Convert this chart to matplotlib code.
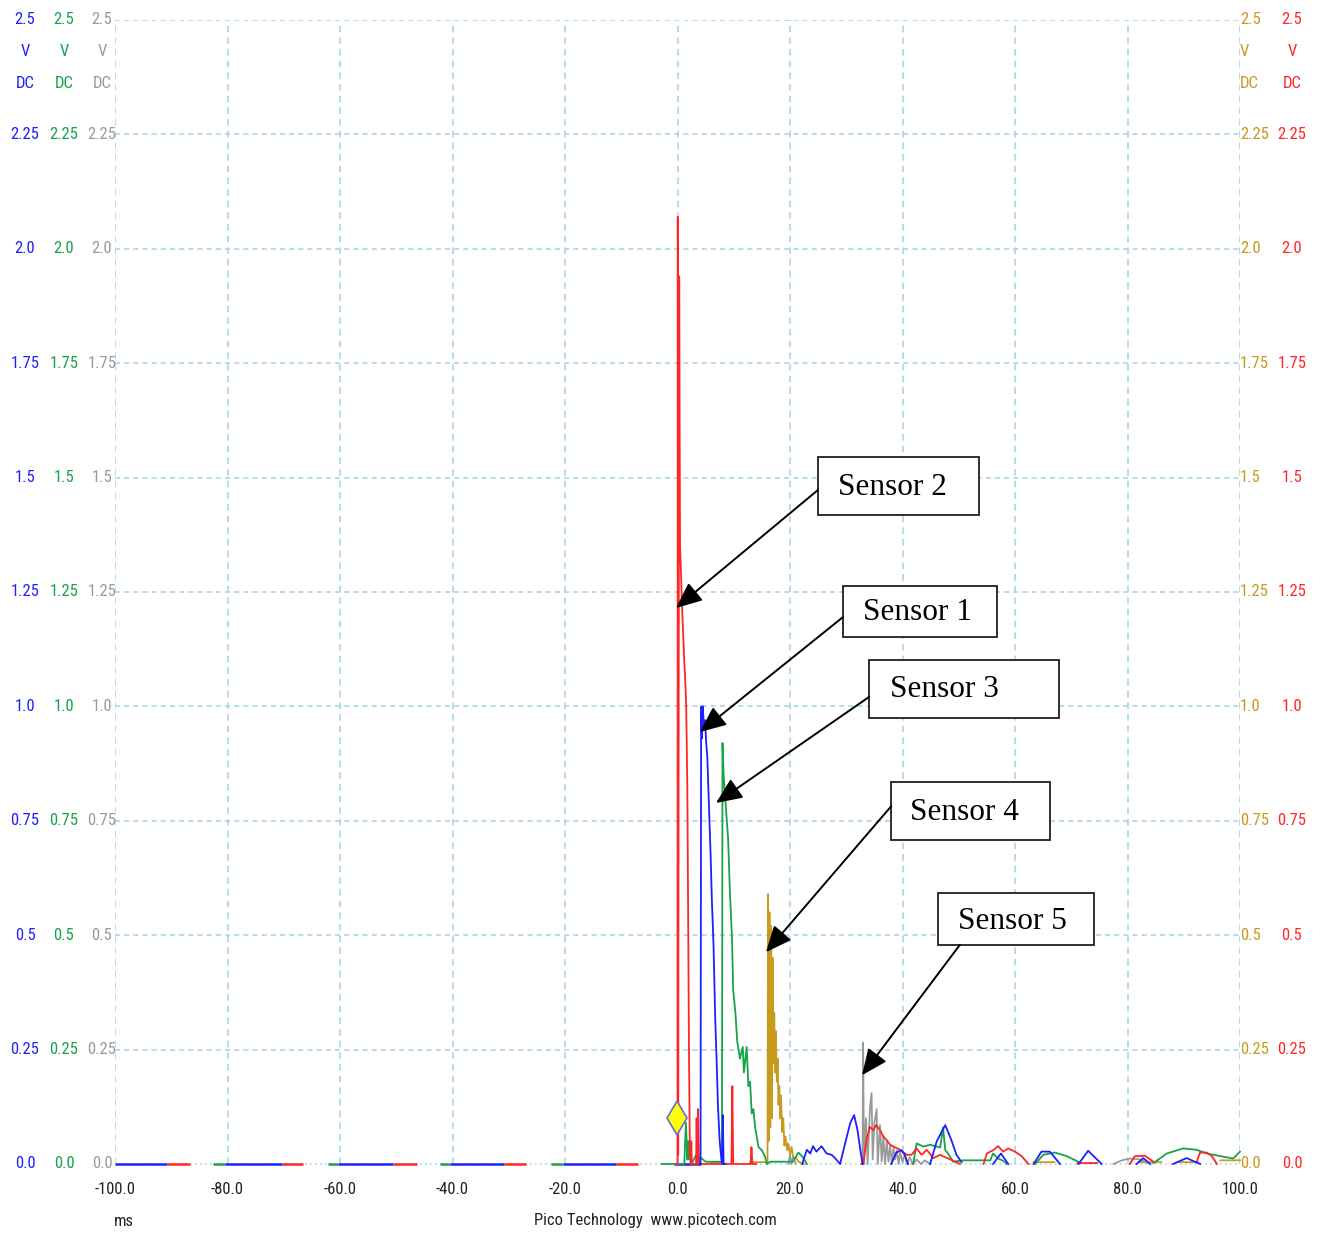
import numpy as np
import matplotlib
matplotlib.use("Agg")
import matplotlib.pyplot as plt
from matplotlib.patches import Rectangle
from matplotlib import font_manager as fm

nan = np.nan

# ---------------- data (time in ms, amplitude in V) ----------------
red_t = [-0.3, 0.0, 0.05, 0.12, 0.3, 0.45, 0.6, 0.8, 1.0, 1.2, 1.4, 1.55, 1.75, 1.9, 2.05, 2.2, 2.35, 2.45, 2.55,
         3.3, 3.4, 3.5, 3.65, 3.8, 9.6, 9.75, 9.9, 13.0, 13.15, 13.3, 14.0, nan,
         32.7, 33.0, 33.6, 34.2, 34.8, 35.3, 36.0, 36.6, 37.2, 37.8, 38.4, 39.6, 40.8, 41.6, 42.5, 43.4, 44.3,
         45.5, 46.7, 47.9, 48.7, 50.2, nan,
         54.4, 55.0, 56.1, 57.0, 57.9, 58.8, 60.0, 61.2, 62.4, nan,
         71.1, 74.6, nan, 80.4, 81.3, 83.1, 84.6, nan, 92.3, 92.9, 94.1, 95.0, 95.9]
red_v = [0, 0, 2.07, 0.02, 1.94, 1.35, 1.30, 1.22, 1.16, 1.10, 1.05, 1.0, 0.82, 0.53, 0.23, 0.02, 0.0, 0.05, 0.0,
         0.0, 0.1, 0.0, 0.12, 0.0, 0.0, 0.17, 0.0, 0.0, 0.037, 0.0, 0.0, nan,
         0.0, 0.0, 0.052, 0.081, 0.074, 0.085, 0.074, 0.06, 0.052, 0.042, 0.038, 0.031, 0.02, 0.02, 0.034, 0.02, 0.031,
         0.013, 0.02, 0.013, 0.009, 0.0, nan,
         0.0, 0.023, 0.03, 0.039, 0.027, 0.034, 0.027, 0.017, 0.0, nan,
         0.002, 0.002, nan, 0.0, 0.017, 0.018, 0.005, nan, 0.005, 0.025, 0.025, 0.017, 0.0]

blue_t = [3.9, 4.1, 4.2, 4.35, 4.5, 4.7, 4.9, 5.1, 5.3, 5.6, 5.9, 6.1, 6.4, 6.7, 7.0, 7.2, 7.5, 7.8, 7.95, 8.05, 8.2, 8.5, nan,
          22.2, 22.4, 23.0, 23.6, 24.1, 24.7, 25.6, 26.5, 27.4, 28.0, 28.9, 29.8, 30.7, 31.4, 32.0, 32.6, 32.9, nan,
          38.0, 38.9, 39.8, 40.4, 41.0, nan,
          44.9, 46.1, 47.6, 48.7, 49.6, 50.5, nan,
          56.1, 57.5, 58.8, nan, 63.3, 64.7, 66.2, 68.0, nan, 71.3, 73.0, 75.4, nan,
          81.6, 82.8, 84.0, nan, 88.1, 90.5, 92.9]
blue_v = [0.0, 0.0, 1.0, 0.93, 1.0, 0.95, 0.97, 0.92, 0.89, 0.78, 0.67, 0.58, 0.48, 0.32, 0.21, 0.125, 0.05, 0.01, 0.0, 0.107, 0.0, 0.0, nan,
          0.0, 0.009, 0.031, 0.023, 0.039, 0.027, 0.039, 0.023, 0.02, 0.013, 0.0, 0.045, 0.089, 0.107, 0.074, 0.023, 0.0, nan,
          0.0, 0.025, 0.03, 0.02, 0.0, nan,
          0.0, 0.05, 0.085, 0.052, 0.02, 0.004, nan,
          0.0, 0.023, 0.0, nan, 0.0, 0.027, 0.027, 0.0, nan, 0.0, 0.029, 0.0, nan,
          0.0, 0.013, 0.0, nan, 0.0, 0.013, 0.0]

green_t = [-2.8, 1.2, 1.5, 1.75, 1.9, 2.05, 2.3, 2.5, 3.3, 3.6, 4.0, 5.0, 7.9, 8.0, 8.2, 8.6, 9.0, 9.3, 9.7, 9.9, 10.3,
           10.6, 11.1, 11.6, 11.8, 12.3, 12.6, 12.9, 13.2, 13.5, 13.8, 14.4, 15.0, 15.6, 15.9, 16.5, 20.5, 21.5, 22.3, 23.0, nan,
           41.9, 42.5, 43.7, 44.9, 46.1, 46.7, 47.2, 47.6, 48.1, 49.0, 50.8, 55.6, 56.1, 57.0, 57.9, 58.5, nan,
           63.6, 65.0, 67.1, 69.2, 71.6, nan,
           84.6, 87.0, 89.9, 92.3, 94.1, 97.0, 98.8, 100.0]
green_v = [0.0, 0.0, 0.09, 0.01, 0.05, 0.01, 0.03, 0.0, 0.02, 0.0, 0.015, 0.005, 0.005, 0.92, 0.85, 0.78, 0.71, 0.60, 0.49, 0.38, 0.33,
           0.27, 0.23, 0.256, 0.2, 0.256, 0.17, 0.18, 0.11, 0.12, 0.08, 0.037, 0.03, 0.015, 0.0, 0.005, 0.005, 0.025, 0.015, 0.0, nan,
           0.0, 0.045, 0.038, 0.042, 0.038, 0.036, 0.08, 0.03, 0.023, 0.005, 0.008, 0.008, 0.023, 0.012, 0.007, 0.0, nan,
           0.0, 0.02, 0.025, 0.017, 0.003, nan,
           0.002, 0.023, 0.034, 0.031, 0.023, 0.016, 0.012, 0.027]

gold_t = [5.8, 8.1, nan, 12.9, 15.9, 16.0, 16.1, 16.2, 16.35, 16.5, 16.65, 16.8, 16.95, 17.05, 17.2, 17.35, 17.5, 17.65, 17.8,
          17.95, 18.1, 18.25, 18.4, 18.6, 18.8, 19.0, 19.2, 19.5, 19.7, 20.0, 20.3, 20.6, 21.0, 21.5, 22.5, nan,
          63.3, 67.0, nan, 82.0, 86.0, nan, 89.0, 92.5, nan, 96.5, 100.0]
gold_v = [0.004, 0.004, nan, 0.004, 0.004, 0.0, 0.59, 0.05, 0.55, 0.08, 0.52, 0.1, 0.45, 0.22, 0.33, 0.2, 0.29, 0.18, 0.23,
          0.13, 0.17, 0.1, 0.15, 0.07, 0.1, 0.04, 0.06, 0.03, 0.045, 0.02, 0.037, 0.01, 0.015, 0.005, 0.0, nan,
          0.004, 0.004, nan, 0.004, 0.004, nan, 0.004, 0.004, nan, 0.008, 0.008]

gray_t = [19.7, 20.0, 20.3, 20.6, 21.0, nan,
          32.9, 33.0, 33.15, 33.5, 33.8, 34.2, 34.5, 34.7, 35.0, 35.4, 35.6, 36.0, 36.3, 36.6, 36.9, 37.2, 37.5, 37.8,
          38.1, 38.4, 38.7, 39.0, 39.3, 39.6, 40.0, 40.4, 40.8, 41.3, 41.8, 42.5, 43.3, 44.0, 44.9, nan,
          77.5, 79.0, 80.5, 82.2, 83.5]
gray_v = [0.0, 0.02, 0.0, 0.015, 0.0, nan,
          0.0, 0.265, 0.0, 0.1, 0.0, 0.12, 0.155, 0.01, 0.09, 0.12, 0.0, 0.085, 0.005, 0.06, 0.0, 0.05, 0.005, 0.04,
          0.0, 0.035, 0.01, 0.03, 0.0, 0.025, 0.005, 0.02, 0.0, 0.015, 0.0, 0.01, 0.0, 0.008, 0.0, nan,
          0.0, 0.008, 0.012, 0.01, 0.003]

# pre-trigger baseline segments (start, end) in ms, all at 0 V
blue_base_start = [-100.0, -80.4, -60.3, -40.4, -20.3, -0.6]
blue_base_end = [-90.7, -70.3, -50.6, -30.9, -11.0, 4.1]
red_base_start = [-90.7, -70.3, -50.6, -30.9, -11.0]
red_base_end = [-86.7, -66.5, -46.4, -27.0, -7.1]
green_base_start = [-82.5, -62.1, -42.3, -22.5]
green_base_end = [-80.4, -60.3, -40.4, -20.3]

trigger_t = [-0.1]
trigger_v = [0.10]

y_ticks = [0.0, 0.25, 0.5, 0.75, 1.0, 1.25, 1.5, 1.75, 2.0, 2.25]
y_tick_labels = ["0.0", "0.25", "0.5", "0.75", "1.0", "1.25", "1.5", "1.75", "2.0", "2.25"]
x_ticks = [-100, -80, -60, -40, -20, 0, 20, 40, 60, 80, 100]
x_tick_labels = ["-100.0", "-80.0", "-60.0", "-40.0", "-20.0", "0.0", "20.0", "40.0", "60.0", "80.0", "100.0"]

sensor_names = ["Sensor 2", "Sensor 1", "Sensor 3", "Sensor 4", "Sensor 5"]
# box (x0, x1, y0, y1), text centre, arrow tail, arrow tip  (data coords)
box_x0 = [24.98, 29.4, 34.1, 38.0, 46.3]
box_x1 = [53.6, 56.8, 67.8, 66.2, 74.0]
box_y0 = [1.418, 1.152, 0.975, 0.708, 0.479]
box_y1 = [1.545, 1.263, 1.101, 0.835, 0.592]
text_x = [38.3, 42.6, 47.4, 51.1, 59.6]
text_y = [1.479, 1.206, 1.036, 0.769, 0.529]
tail_x = [24.98, 29.4, 34.1, 38.0, 50.2]
tail_y = [1.473, 1.195, 1.021, 0.782, 0.479]
tip_x = [-0.27, 4.0, 6.84, 15.73, 32.8]
tip_y = [1.215, 0.944, 0.789, 0.463, 0.194]

# ---------------- styling ----------------
C_BLUE = "#1f1fff"
C_GREEN = "#16a34a"
C_GRAY = "#9a9a9a"
C_GOLD = "#c89a1e"
C_RED = "#ff2626"
GRID = "#a9d6e6"

avail = {f.name for f in fm.fontManager.ttflist}
narrow = [f for f in ["Liberation Sans Narrow", "DejaVu Sans Condensed", "Roboto Condensed"] if f in avail]
NARROW = narrow + ["DejaVu Sans"]
SERIF = ["Liberation Serif", "DejaVu Serif"]

W, H = 1320, 1233
fig = plt.figure(figsize=(W / 100, H / 100), dpi=100)
L, R, T, B = 115, 1240, 20, 1164
ax = fig.add_axes([L / W, 1 - B / H, (R - L) / W, (B - T) / H])
ax.set_xlim(-100, 100)
ax.set_ylim(0, 2.5)
for s in ax.spines.values():
    s.set_visible(False)
ax.set_xticks([])
ax.set_yticks([])

# grid
for yv in y_ticks[1:] + [2.5]:
    ax.axhline(yv, color=GRID, lw=1.2, ls=(0, (3, 2.5)), zorder=0)
ax.axhline(0.0, color=GRID, lw=1.2, ls=(0, (1, 2)), zorder=0, clip_on=False)
for xv in x_ticks:
    ax.axvline(xv, color=GRID, lw=1.2, ls=(0, (4, 3)), zorder=0)

LW = 1.3
# baselines
ax.hlines([0] * len(blue_base_start), blue_base_start, blue_base_end, color=C_BLUE, lw=1.8, zorder=3, clip_on=False)
ax.hlines([0] * len(red_base_start), red_base_start, red_base_end, color=C_RED, lw=1.8, zorder=3, clip_on=False)
ax.hlines([0] * len(green_base_start), green_base_start, green_base_end, color=C_GREEN, lw=1.8, zorder=3, clip_on=False)

ax.plot(gold_t, gold_v, color=C_GOLD, lw=LW, zorder=2, clip_on=False)
ax.plot(gray_t, gray_v, color=C_GRAY, lw=LW, zorder=2, clip_on=False)
ax.plot(green_t, green_v, color=C_GREEN, lw=LW, zorder=3, clip_on=False)
ax.plot(red_t, red_v, color=C_RED, lw=LW, zorder=3, clip_on=False)
ax.plot(blue_t, blue_v, color=C_BLUE, lw=LW, zorder=3, clip_on=False)

ax.plot(trigger_t, trigger_v, marker="d", ms=17, mfc="#ffff00", mec="#6a6ad8", mew=1.2, ls="none", zorder=6)

# annotations
for i, name in enumerate(sensor_names):
    ax.add_patch(Rectangle((box_x0[i], box_y0[i]), box_x1[i] - box_x0[i], box_y1[i] - box_y0[i],
                           fc="white", ec="#202020", lw=1.3, zorder=7))
    ax.text(text_x[i], text_y[i], name, ha="center", va="center", fontsize=22.5,
            family=SERIF, color="black", zorder=8)
    ax.annotate("", xy=(tip_x[i], tip_y[i]), xytext=(tail_x[i], tail_y[i]),
                arrowprops=dict(arrowstyle="-|>,head_length=0.8,head_width=0.35", mutation_scale=20,
                                color="black", lw=1.4, shrinkA=0, shrinkB=0), zorder=8)

# axis labels as text
FS = 12
def ypos(v):
    return 1 - (B - (v / 2.5) * (B - T)) / H

cols = [(25, C_BLUE, "center"), (64, C_GREEN, "center"), (102, C_GRAY, "center"),
        (1240, C_GOLD, "left"), (1292, C_RED, "center")]
for xpix, col, ha in cols:
    for v, lab in zip(y_ticks, y_tick_labels):
        fig.text(xpix / W, ypos(v), lab, color=col, ha=ha, va="center", fontsize=FS, family=NARROW)
    fig.text(xpix / W, 1 - 20 / H, "2.5", color=col, ha=ha, va="center", fontsize=FS, family=NARROW)
    fig.text(xpix / W, 1 - 52 / H, "V", color=col, ha=ha, va="center", fontsize=FS, family=NARROW)
    fig.text(xpix / W, 1 - 83 / H, "DC", color=col, ha=ha, va="center", fontsize=FS, family=NARROW)

for xv, lab in zip(x_ticks, x_tick_labels):
    xpix = L + (xv + 100) / 200 * (R - L)
    fig.text(xpix / W, 1 - 1190 / H, lab, color="#222222", ha="center", va="center", fontsize=FS, family=NARROW)
fig.text(124 / W, 1 - 1221 / H, "ms", color="#222222", ha="center", va="center", fontsize=FS, family=NARROW)
fig.text(655 / W, 1 - 1221 / H, "Pico Technology  www.picotech.com", color="#222222", ha="center",
         va="center", fontsize=FS, family=NARROW)

fig.savefig("out.png", dpi=100, facecolor="white")
